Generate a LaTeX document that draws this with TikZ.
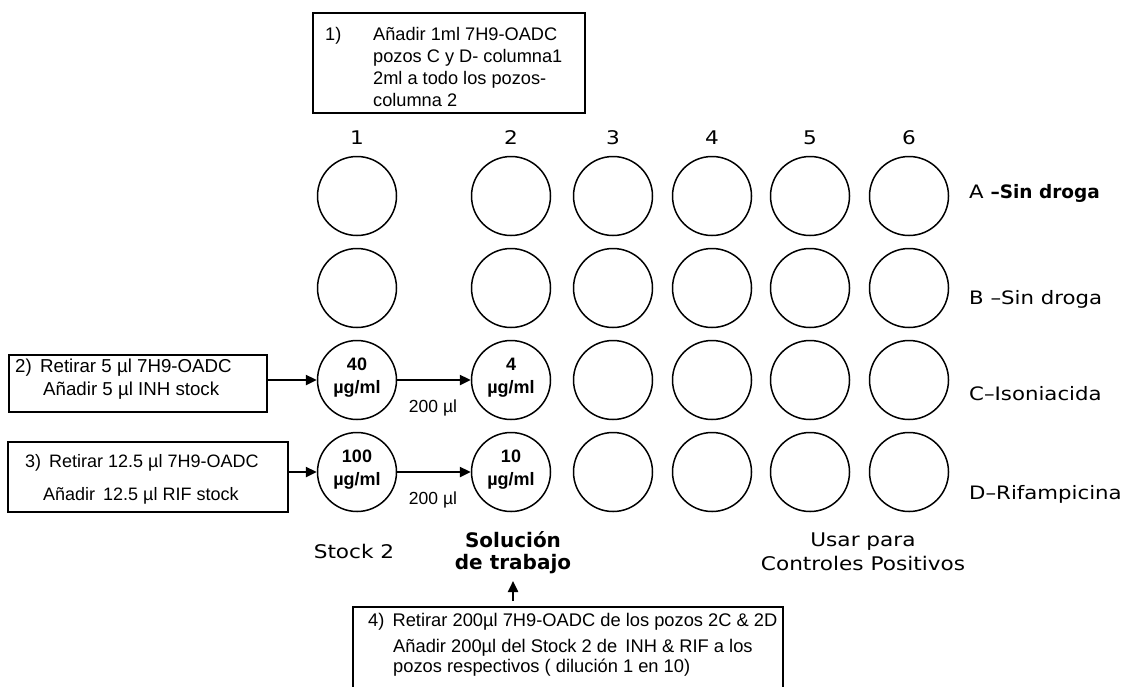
\documentclass[tikz,border=0pt]{standalone}
\usepackage{fontspec}
\setmainfont{Liberation Sans}
\newfontfamily\lbl[FakeStretch=1.15]{DejaVu Sans}
\newfontfamily\lblplain{DejaVu Sans}
\usetikzlibrary{arrows.meta}
\begin{document}
\begin{tikzpicture}[x=1pt,y=-1pt,
  well/.style={circle,draw,line width=1.5pt,minimum size=79pt,inner sep=0pt},
  frame/.style={draw,line width=1.4pt,inner sep=0pt},
  txt/.style={inner sep=0pt,anchor=base west,font=\fontsize{18}{22}\selectfont},
  ttxt/.style={inner sep=0pt,anchor=base west,font=\fontsize{18.2}{22}\selectfont},
  ctxt/.style={inner sep=0pt,anchor=base,font=\fontsize{17.5}{22}\selectfont},
  btxt/.style={inner sep=0pt,anchor=base,font=\fontsize{18}{22}\selectfont\bfseries},
  lab/.style={inner sep=0pt,anchor=base,font=\lbl\fontsize{18.8}{22}\selectfont},
  rlab/.style={inner sep=0pt,anchor=base west,font=\lbl\fontsize{18.5}{22}\selectfont},
  arr/.style={line width=2.4pt,-{Triangle[length=11pt,width=10pt]}}]
\useasboundingbox (0,0) rectangle (1123,686);
\clip (0,0) rectangle (1123,686);

% top box
\node[frame,minimum width=272pt,minimum height=100pt] (box1) at (449,63) {};
\node[ttxt] (t1n) at (325,40) {1)};
\node[ttxt] (t1a) at (373,40) {Añadir 1ml 7H9-OADC};
\node[ttxt] (t1b) at (373,62) {pozos C y D- columna1};
\node[ttxt] (t1c) at (373,84) {2ml a todo los pozos-};
\node[ttxt] (t1d) at (373,106) {columna 2};

% column numbers
\node[lab] (n1) at (357,144) {1};
\node[lab] (n2) at (511,144) {2};
\node[lab] (n3) at (613,144) {3};
\node[lab] (n4) at (712,144) {4};
\node[lab] (n5) at (810,144) {5};
\node[lab] (n6) at (909,144) {6};

% wells
\foreach \r/\y in {A/196,B/288,C/380,D/472}{
  \foreach \c/\x in {1/357,2/511,3/613,4/712,5/810,6/909}{
    \node[well] (\r\c) at (\x,\y) {};
  }
}

% well contents
\node[btxt] (c1a) at (357,370.5) {40};
\node[btxt] (c1b) at (357,393) {µg/ml};
\node[btxt] (c2a) at (511,370.5) {4};
\node[btxt] (c2b) at (511,393) {µg/ml};
\node[btxt] (d1a) at (357,462.5) {100};
\node[btxt] (d1b) at (357,485) {µg/ml};
\node[btxt] (d2a) at (511,462.5) {10};
\node[btxt] (d2b) at (511,485) {µg/ml};

% transfer arrows
\draw[arr] (C1.east) -- (C2.west);
\draw[arr] (D1.east) -- (D2.west);
\node[ctxt] (v1) at (433,412) {200 µl};
\node[ctxt] (v2) at (433,504) {200 µl};

% row labels
\node[rlab] (rA) at (969,198) {A {\lblplain\bfseries –Sin droga}};
\node[rlab] (rB) at (969,304) {B –Sin droga};
\node[rlab] (rC) at (969,400) {C–Isoniacida};
\node[rlab] (rD) at (969,499) {D–Rifampicina};

% box 2
\node[frame,minimum width=258pt,minimum height=57pt] (box2) at (138,383.5) {};
\node[txt,font=\fontsize{18.7}{22}\selectfont] (t2a) at (15,372) {2)\, Retirar 5 µl 7H9-OADC};
\node[txt,font=\fontsize{18.7}{22}\selectfont] (t2b) at (43,395) {Añadir 5 µl INH stock};
\draw[arr] (box2.east |- C1.west) -- (C1.west);

% box 3
\node[frame,minimum width=280pt,minimum height=70pt] (box3) at (148,477) {};
\node[txt] (t3a) at (25,467) {3)\, Retirar 12.5 µl 7H9-OADC};
\node[txt] (t3b) at (43,500) {Añadir\, 12.5 µl RIF stock};
\draw[arr] (box3.east |- D1.west) -- (D1.west);

% bottom labels
\node[lab] (stock) at (354,558) {Stock 2};
\node[inner sep=0pt,anchor=base,font=\lblplain\fontsize{20}{22}\selectfont\bfseries] (sol1) at (513,547) {Solución};
\node[inner sep=0pt,anchor=base,font=\lblplain\fontsize{20}{22}\selectfont\bfseries] (sol2) at (513,569) {de trabajo};
\node[lab] (usar1) at (863,546) {Usar para};
\node[lab] (usar2) at (863,570) {Controles Positivos};

% bottom box
\node[frame,minimum width=430pt,minimum height=100pt] (box4) at (568,657) {};
\coordinate (up) at (513,601);
\draw[arr] (up) -- (513,581);
\node[txt,font=\fontsize{18.3}{22}\selectfont] (t4a) at (368,626) {4)\, Retirar 200µl 7H9-OADC de los pozos 2C \& 2D};
\node[txt,font=\fontsize{18.3}{22}\selectfont] (t4b) at (393,652) {Añadir 200µl del Stock 2 de\, INH \& RIF a los};
\node[txt,font=\fontsize{18.3}{22}\selectfont] (t4c) at (393,672) {pozos respectivos ( dilución 1 en 10)};
\end{tikzpicture}
\end{document}
